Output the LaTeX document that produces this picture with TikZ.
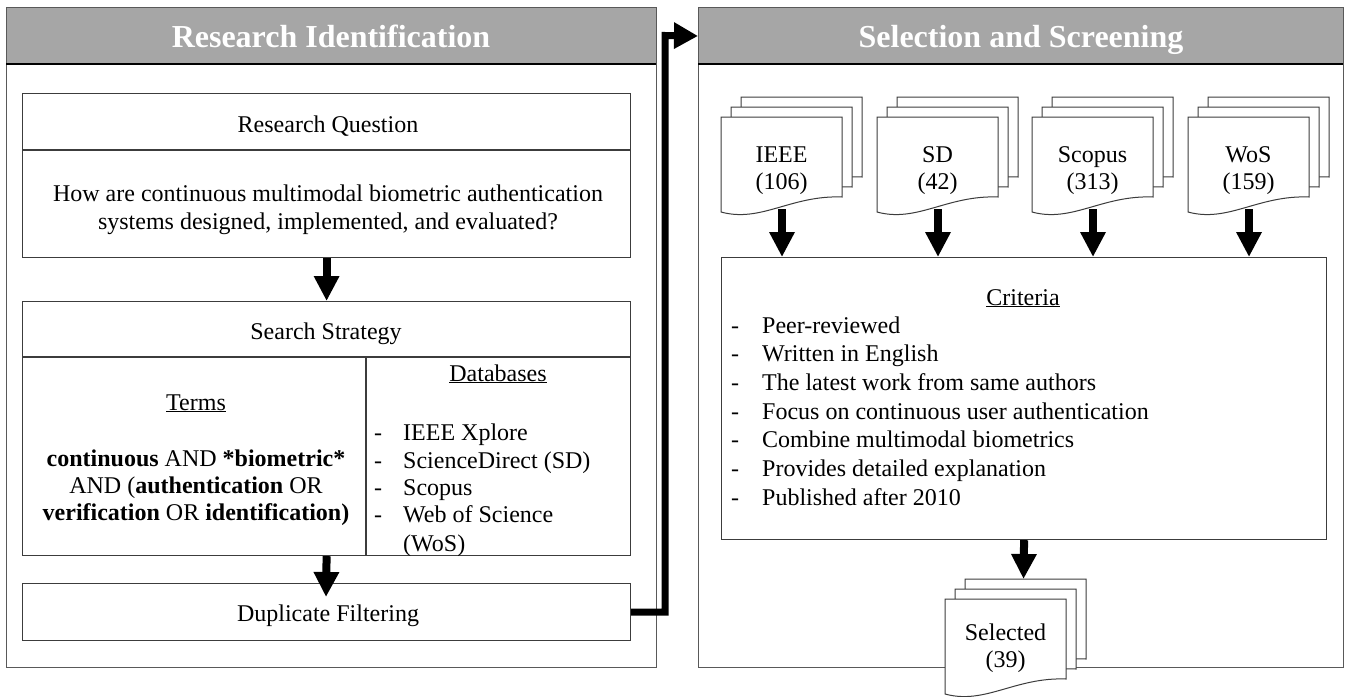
\documentclass[tikz,border=0pt]{standalone}
\usepackage{fontspec}
\setmainfont{Liberation Serif}
\usetikzlibrary{arrows.meta}
\definecolor{hdr}{HTML}{A6A6A6}
\definecolor{edge}{HTML}{3C3C3C}
\begin{document}
\begin{tikzpicture}[x=1pt,y=-1pt, line join=miter,
  panel/.style={draw=edge!85,line width=1pt,anchor=north west,inner sep=0pt},
  header/.style={draw=edge!85,fill=hdr,line width=1pt,anchor=north west,inner sep=0pt,minimum height=57pt},
  hdrtext/.style={text=white,font=\fontsize{32}{36}\selectfont\bfseries,inner sep=0pt,anchor=base},
  box/.style={draw=edge,line width=1.2pt,fill=white,anchor=north west,inner sep=0pt},
  txt/.style={inner sep=0pt,font=\fontsize{24}{28}\selectfont},
  rule/.style={draw=edge,line width=1.2pt},
  flow/.style={line width=8pt,-{Triangle[width=24pt,length=25pt]}},
  conn/.style={line width=7pt,-{Triangle[width=25pt,length=24pt]}},
  docpage/.pic={\path[draw=edge,fill=white,line width=1pt] (0,0) -- (121,0) -- (121,80) .. controls (70,78) and (40,106) .. (0,95) -- cycle;}
]
\useasboundingbox[fill=white] (0,0) rectangle (1349,696);

% ---------------- left panel ----------------
\node[panel,minimum width=650pt,minimum height=660pt] (lp) at (6,7) {};
\node[header,minimum width=650pt] (lh) at (6,7) {};
\draw[line width=1.6pt] (6,64) -- (656,64);
\node[hdrtext] (lht) at (331,47) {Research Identification};

% research question
\node[box,minimum width=608pt,minimum height=164pt] (rq) at (22,93) {};
\draw[rule] (22,150) -- (630,150);
\node[txt,anchor=base] (rqt) at (328,132) {Research Question};
\node[txt,align=center] (rqq) at (328,210) {How are continuous multimodal biometric authentication\\systems designed, implemented, and evaluated?};

% search strategy
\node[box,minimum width=608pt,minimum height=254pt] (ss) at (22,301) {};
\draw[rule] (22,357) -- (630,357);
\draw[rule] (366,357) -- (366,555);
\node[txt,anchor=base] (sst) at (326,339) {Search Strategy};
\node[txt,anchor=base] (termst) at (196,410) {\underline{Terms}};
\node[txt,align=center,font=\fontsize{24}{27}\selectfont] (terms) at (196,488)
  {\textbf{continuous} AND \textbf{*biometric*}\\AND (\textbf{authentication} OR\\\textbf{verification} OR \textbf{identification)}};
\node[txt,anchor=base] (dbt) at (498,381) {\underline{Databases}};
\foreach \t/\yy [count=\i] in {IEEE Xplore/440, ScienceDirect (SD)/468, Scopus/495, Web of Science/522}{
  \node[txt,anchor=base west] (db\i) at (374,\yy) {\makebox[29pt][l]{-}\t};
}
\node[txt,anchor=base west] (db5) at (403,551) {(WoS)};

\draw[flow] (rq.south) -- (ss.north);

% duplicate filtering
\node[box,minimum width=608pt,minimum height=57pt] (dup) at (22,583) {};
\node[txt,anchor=base] (dupt) at (328,621) {Duplicate Filtering};
\coordinate (dupin) at (326,597);
\draw[flow] (ss.south) -- (dupin);

% ---------------- right panel ----------------
\node[panel,minimum width=645pt,minimum height=660pt] (rp) at (698,7) {};
\node[header,minimum width=645pt] (rh) at (698,7) {};
\draw[line width=1.6pt] (698,64) -- (1343,64);
\node[hdrtext] (rht) at (1021,47) {Selection and Screening};

% connector between panels
\coordinate (cup) at (665,35.5);
\draw[conn] (dup.east) -| (cup) -- (rh.west);

% criteria
\node[box,minimum width=605pt,minimum height=282pt] (crit) at (721,257) {};
\node[txt,anchor=base] (critt) at (1023,305) {\underline{Criteria}};
\foreach \t [count=\i] in {Peer-reviewed, Written in English, The latest work from same authors, Focus on continuous user authentication, Combine multimodal biometrics, Provides detailed explanation, Published after 2010}{
  \node[txt,anchor=base west] (cr\i) at (731,{333+28.7*(\i-1)}) {\makebox[31pt][l]{-}\t};
}

% source stacks
\foreach \L/\nm/\num/\id in {721/IEEE/106/ieee, 877/SD/42/sd, 1032/Scopus/313/scopus, 1188/WoS/159/wos}{
  \pic at ({\L+20},97) {docpage};
  \pic at ({\L+10},107) {docpage};
  \pic at (\L,117) {docpage};
  \node[txt,align=center,font=\fontsize{24}{27}\selectfont] (\id) at ({\L+60.5},171) {\nm\\(\num)};
  \coordinate (b\id) at ({\L+61},209);
  \draw[flow] (b\id) -- (b\id |- crit.north);
}

% selected stack
\pic at (965,579) {docpage};
\pic at (955,589) {docpage};
\pic at (945,599) {docpage};
\node[txt,align=center,font=\fontsize{24}{27}\selectfont] (sel) at (1005.5,648.5) {Selected\\(39)};
\coordinate (selt) at (1023.5,579);
\draw[flow] (crit.south) -- (selt);
\end{tikzpicture}
\end{document}
